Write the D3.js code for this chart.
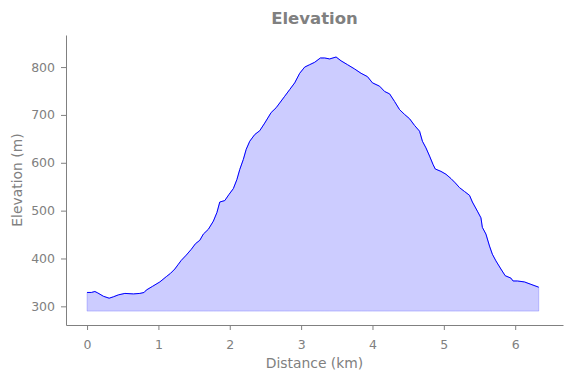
<!DOCTYPE html>
<html>
<head>
<meta charset="utf-8">
<script src="https://cdn.jsdelivr.net/npm/d3@7"></script>
<style>
  body { margin: 0; background: #fff; }
  text { font-family: "DejaVu Sans", sans-serif; fill: #808080; }
</style>
</head>
<body>
<div id="chart"></div>
<script>
// distance along the track (km) and elevation (m)
var distance = [0.00, 0.06, 0.11, 0.15, 0.23, 0.31, 0.37, 0.44, 0.53, 0.65, 0.74, 0.80, 0.83, 0.92,
  1.02, 1.11, 1.17, 1.23, 1.28, 1.32, 1.39, 1.46, 1.52, 1.58, 1.63, 1.70, 1.77, 1.82, 1.86, 1.93, 1.99,
  2.05, 2.10, 2.14, 2.19, 2.23, 2.28, 2.35, 2.42, 2.49, 2.58, 2.65, 2.70, 2.77, 2.84, 2.91, 2.98,
  3.05, 3.12, 3.19, 3.27, 3.33, 3.40, 3.49, 3.56, 3.65, 3.75, 3.84, 3.93,
  4.00, 4.10, 4.17, 4.24, 4.31, 4.38, 4.45, 4.52, 4.59, 4.66, 4.70, 4.75, 4.80, 4.85, 4.88, 4.96,
  5.03, 5.10, 5.16, 5.22, 5.29, 5.36, 5.40, 5.47, 5.52, 5.54, 5.59, 5.64, 5.68, 5.73, 5.80, 5.86, 5.94, 5.97,
  6.03, 6.13, 6.22, 6.33];
var elevation = [329, 329, 331, 328, 321, 317, 320, 324, 327, 326, 327, 329, 334, 342,
  351, 362, 369, 378, 388, 396, 407, 419, 431, 438, 451, 461, 478, 496, 518, 521, 534,
  546, 565, 586, 607, 628, 645, 659, 667, 683, 705, 715, 725, 739, 753, 767, 787,
  800, 805, 810, 819, 819, 817, 821, 813, 805, 796, 787, 780,
  767, 760, 749, 744, 728, 711, 701, 692, 678, 666, 645, 631, 614, 596, 587, 582,
  576, 567, 558, 548, 540, 532, 518, 499, 485, 465, 451, 426, 409, 395, 378, 364, 359, 353,
  353, 351, 346, 340];
var baseElevation = 290;
var xTicks = [0, 1, 2, 3, 4, 5, 6];
var yTicks = [300, 400, 500, 600, 700, 800];

var data = distance.map(function(d, i) { return {dist: d, elev: elevation[i]}; });

var svgWidth = 571;
var svgHeight = 378;
var margin = {top: 35, right: 8, bottom: 53, left: 66};
var width = svgWidth - margin.left - margin.right;
var height = svgHeight - margin.top - margin.bottom;

var svg = d3.select("#chart")
  .append("svg")
  .attr("width", svgWidth)
  .attr("height", svgHeight);

var chartGroup = svg.append("g")
  .attr("transform", `translate(${margin.left}, ${margin.top})`);

var xScale = d3.scaleLinear()
  .domain([-0.295, 6.67])
  .range([0, width]);

var yScale = d3.scaleLinear()
  .domain([261, 867])
  .range([height, 0]);

// filled area under the profile
var area = d3.area()
  .x(d => xScale(d.dist))
  .y0(yScale(baseElevation))
  .y1(d => yScale(d.elev));

chartGroup.append("path")
  .datum(data)
  .attr("d", area)
  .attr("fill", "rgba(0,0,255,0.2)")
  .attr("stroke", "rgba(0,0,255,0.2)")
  .attr("stroke-width", 1);

var line = d3.line()
  .x(d => xScale(d.dist))
  .y(d => yScale(d.elev));

chartGroup.append("path")
  .datum(data)
  .attr("d", line)
  .attr("fill", "none")
  .attr("stroke", "#0000ff")
  .attr("stroke-width", 1);

// axes
var bottomAxis = d3.axisBottom(xScale).tickValues(xTicks).tickFormat(d3.format("d"))
  .tickSize(5).tickPadding(10).tickSizeOuter(0);
var leftAxis = d3.axisLeft(yScale).tickValues(yTicks).tickFormat(d3.format("d"))
  .tickSize(5).tickPadding(6).tickSizeOuter(0);

var xAxisG = chartGroup.append("g")
  .attr("transform", `translate(0, ${height})`)
  .call(bottomAxis);

var yAxisG = chartGroup.append("g")
  .call(leftAxis);

[xAxisG, yAxisG].forEach(function(g) {
  g.select(".domain").attr("stroke", "#808080");
  g.selectAll(".tick line").attr("stroke", "#808080");
  g.selectAll(".tick text")
    .attr("fill", "#808080")
    .style("font-family", "DejaVu Sans")
    .style("font-size", "12.5px");
});

// labels
chartGroup.append("text")
  .attr("x", width / 2)
  .attr("y", height + 43)
  .attr("text-anchor", "middle")
  .style("font-size", "13.9px")
  .text("Distance (km)");

chartGroup.append("text")
  .attr("transform", "rotate(-90)")
  .attr("x", -height / 2)
  .attr("y", -44)
  .attr("text-anchor", "middle")
  .style("font-size", "13.9px")
  .text("Elevation (m)");

svg.append("text")
  .attr("x", margin.left + width / 2)
  .attr("y", 24)
  .attr("text-anchor", "middle")
  .style("font-size", "16.5px")
  .style("font-weight", "bold")
  .text("Elevation");
</script>
</body>
</html>
